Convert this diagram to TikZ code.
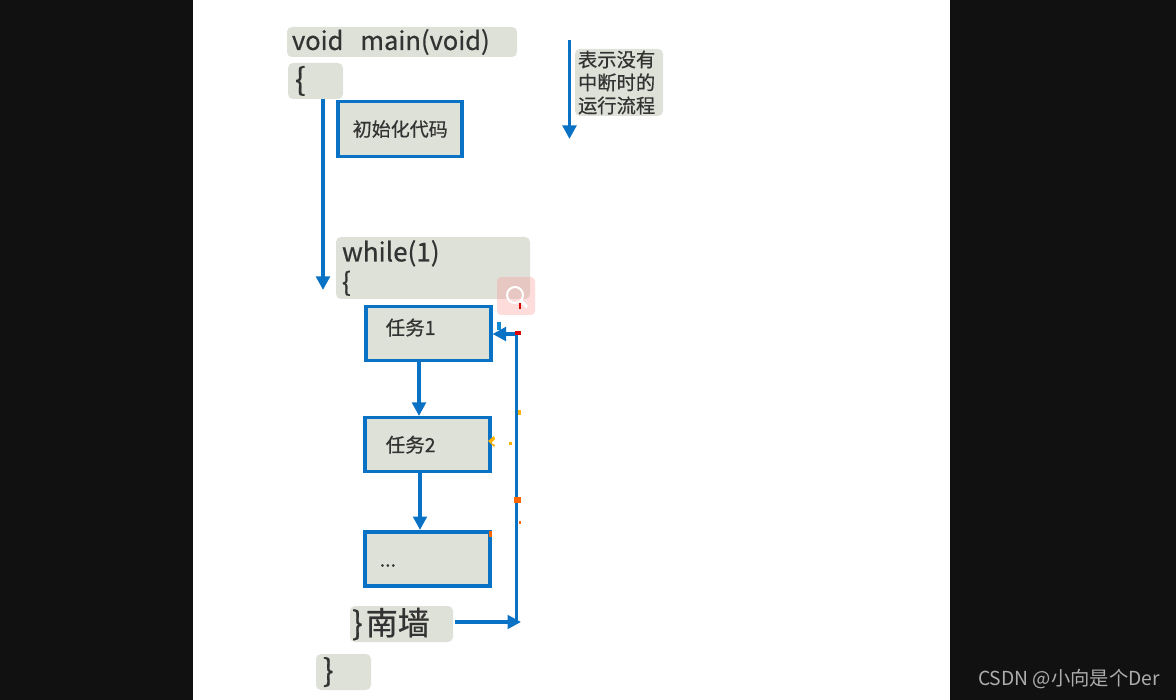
\documentclass[tikz,border=0pt]{standalone}
\usepackage{fontspec}
\setmainfont{Noto Sans CJK SC}[FakeBold=0.6]
\newfontfamily\markfont{Noto Sans CJK SC}
\usetikzlibrary{arrows.meta,calc}
\definecolor{panel}{HTML}{DEE1D8}
\definecolor{flow}{HTML}{0A72C4}
\definecolor{ink}{HTML}{333333}
\definecolor{bgdark}{HTML}{111111}
\tikzset{
  gbox/.style={fill=panel,rounded corners=5pt,text=ink,align=left,inner ysep=0pt,outer sep=0pt},
  taskbox/.style={fill=panel,draw=flow,line width=3.5pt,text=ink,align=left,inner ysep=0pt,font=\fontsize{19.5}{21}\selectfont},
  flowline/.style={draw=flow,line width=3.5pt},
  flowarrow/.style={flowline,-{Triangle[length=13.5pt,width=13.5pt]}}
}
\begin{document}
\begin{tikzpicture}[x=1pt,y=-1pt]
\useasboundingbox (0,0) rectangle (1176,700);
\fill[bgdark] (0,0) rectangle (1176,700);
\fill[white] (193,0) rectangle (950,700);

\node[gbox,anchor=north west,minimum width=230pt,minimum height=30pt,inner xsep=5pt,text width=220pt,font=\fontsize{25.5}{28}\selectfont] (main) at (287,27) {\raisebox{-4pt}{void\ \ main(void)}};
\node[gbox,anchor=north west,minimum width=55pt,minimum height=36pt,inner xsep=7pt,text width=41pt,font=\fontsize{31}{32}\selectfont] (open) at (288,63) {\raisebox{1pt}{\{}};
\node[taskbox,anchor=north west,minimum width=124pt,minimum height=55pt,inner xsep=15pt,text width=94pt,font=\fontsize{19}{21}\selectfont] (init) at (336,100) {\raisebox{2pt}{初始化代码}};
\node[gbox,anchor=north west,minimum width=194pt,minimum height=62pt,inner xsep=6pt,text width=182pt,font=\fontsize{26}{31}\selectfont] (loop) at (336,237) {\raisebox{-2pt}{while(1)}\\\raisebox{-1pt}{\{}};
\node[gbox,anchor=north west,minimum width=88pt,minimum height=67pt,inner xsep=3pt,text width=82pt,font=\fontsize{19.3}{23}\selectfont] (legend) at (575,49) {表示没有\\中断时的\\运行流程};

\fill[red!45,opacity=.3,rounded corners=4pt] (497,277) rectangle (535,315);
\draw[white,line width=2pt] (515,295) circle (8pt);
\draw[white,line width=3pt] (521,301) -- (527,307);
\fill[red!85!black] (519,303) rectangle (521,309);

\node[taskbox,anchor=north west,minimum width=125pt,minimum height=54pt,inner xsep=20pt,text width=85pt] (t1) at (364,305) {\raisebox{14pt}{任务1}};
\node[taskbox,anchor=north west,minimum width=125pt,minimum height=54pt,inner xsep=21pt,text width=83pt] (t2) at (363,416) {\raisebox{-9pt}{任务2}};
\node[taskbox,anchor=north west,minimum width=125pt,minimum height=54pt,inner xsep=15pt,text width=95pt] (t3) at (363,530) {\raisebox{-16pt}{...}};
\node[gbox,anchor=north west,minimum width=103pt,minimum height=36pt,inner xsep=2pt,text width=99pt,font=\fontsize{32}{34}\selectfont] (south) at (350,606) {\}\kern3pt 南墙};
\node[gbox,anchor=north west,minimum width=55pt,minimum height=36pt,inner xsep=7pt,text width=41pt,font=\fontsize{31}{32}\selectfont] (close) at (316,654) {\raisebox{1pt}{\}}};

\coordinate (a1s) at (323,99);
\coordinate (a1e) at (323,290);
\coordinate (a2s) at (569.5,40);
\coordinate (a2e) at (569.5,139);
\draw[flowarrow] (a1s) -- (a1e);
\draw[flowarrow] (a2s) -- (a2e);
\draw[flowarrow] (t1.south -| 419,0) -- (t2.north -| 419,0);
\draw[flowarrow] (t2.south -| 420,0) -- (t3.north -| 420,0);

\coordinate (corner) at (516.5,622);
\coordinate (top) at (516.5,334);
\coordinate (southout) at (455,622);
\coordinate (southend) at (521,622);
\draw[flowarrow] (southout) -- (southend);
\draw[flowline] (corner) -- (top);
\draw[flowarrow] (top -| 518,0) -- (t1.east |- top);

\fill[red!85!black] (515,331) rectangle (521,335);
\fill[cyan!70!blue] (497,322) rectangle (501,330);
\fill[orange!60!yellow] (488,441) -- (494,436) -- (495,439) -- (491,443) -- (495,445) -- (494,447) -- cycle;
\fill[orange!60!yellow] (509,442) rectangle (512,445);
\fill[orange!60!yellow] (518,410) rectangle (521,415);
\fill[orange!80!red] (514,497) rectangle (521,503);
\fill[orange!80!red] (519,521) rectangle (520.5,524);
\fill[orange!80!red] (489,531) rectangle (492,537);

\node[anchor=east,text=white!68!black,font=\markfont\fontsize{19.3}{22}\selectfont,inner sep=0pt] (mark) at (1160,679) {CSDN @小向是个Der};
\end{tikzpicture}
\end{document}
